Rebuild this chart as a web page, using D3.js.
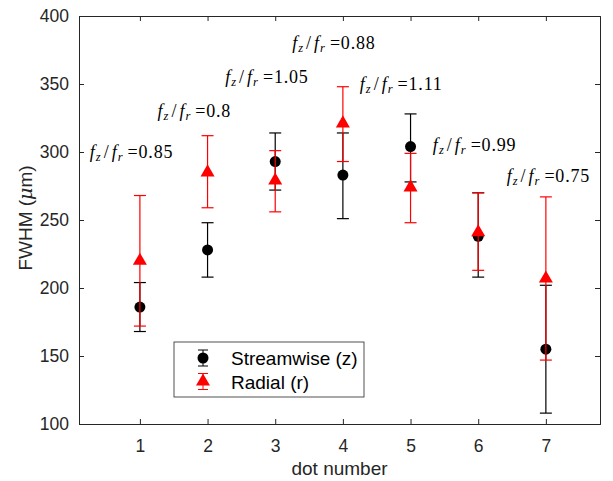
<!DOCTYPE html>
<html>
<head>
<script src="https://cdn.jsdelivr.net/npm/d3@7"></script>
<style>body{margin:0;background:#fff}</style>
</head>
<body>
<svg width="613" height="481" id="mainsvg"></svg>
<script>
const dots = [1, 2, 3, 4, 5, 6, 7];
// streamwise (z): value, lower, upper
const zVal = [186, 228, 293, 283, 304, 238, 155];
const zLow = [168, 208, 272, 251, 278, 208, 108];
const zHigh = [204, 248, 314, 314, 328, 270, 202];
// radial (r)
const rVal = [220, 285, 279, 321, 274, 241, 207];
const rLow = [172, 259, 256, 293, 248, 213, 147];
const rHigh = [268, 312, 301, 348, 299, 270, 267];
// ratio annotations
const ratioText = ['0.85', '0.8', '1.05', '0.88', '1.11', '0.99', '0.75'];
const ratioX = [0.26, 1.26, 2.26, 3.25, 4.25, 5.33, 6.42];
const ratioY = [300, 330, 355, 380, 350, 305, 282];
const yTicks = [100, 150, 200, 250, 300, 350, 400];

const svg = d3.select('svg');
const margin = {top: 16, right: 13, bottom: 57, left: 79};
const width = 613, height = 481;
const innerWidth = width - margin.left - margin.right;
const innerHeight = height - margin.top - margin.bottom;
const g = svg.append('g').attr('transform', `translate(${margin.left},${margin.top})`);

const x = d3.scaleLinear().domain([0.1, 7.8]).range([0, innerWidth]);
const y = d3.scaleLinear().domain([100, 400]).range([innerHeight, 0]);
const axisColor = '#262626';
const sans = 'Liberation Sans, Arial, sans-serif';

// axes with inner ticks on all four sides
const xAxis = g.append('g').attr('transform', `translate(0,${innerHeight})`)
  .call(d3.axisBottom(x).tickValues(dots).tickSize(-5).tickPadding(16).tickFormat(d3.format('d')));
const xTop = g.append('g').call(d3.axisTop(x).tickValues(dots).tickSize(-5).tickFormat(''));
const yAxis = g.append('g').call(d3.axisLeft(y).tickValues(yTicks).tickSize(-5).tickPadding(10));
const yRight = g.append('g').attr('transform', `translate(${innerWidth},0)`)
  .call(d3.axisRight(y).tickValues(yTicks).tickSize(-5).tickFormat(''));
xTop.selectAll('.tick text').remove();
yRight.selectAll('.tick text').remove();
[xAxis, xTop, yAxis, yRight].forEach(a => {
  a.select('.domain').attr('stroke', axisColor);
  a.selectAll('.tick line').attr('stroke', axisColor);
  a.selectAll('.tick text').attr('fill', axisColor).style('font-family', sans).style('font-size', '17.5px');
});

// axis labels
svg.append('text').attr('x', margin.left + innerWidth / 2).attr('y', 475)
  .attr('text-anchor', 'middle').style('font-family', sans).style('font-size', '19px')
  .attr('fill', axisColor).text('dot number');
const yl = svg.append('text').attr('transform', 'translate(32,218) rotate(-90)')
  .attr('text-anchor', 'middle').style('font-family', sans).style('font-size', '19px').attr('fill', axisColor);
yl.append('tspan').text('FWHM (');
yl.append('tspan').style('font-style', 'italic').style('font-family', 'DejaVu Serif, serif').text('μ');
yl.append('tspan').text('m)');

function errorBars(lows, highs, color) {
  const grp = g.append('g');
  dots.forEach((d, i) => {
    const cx = x(d);
    grp.append('line').attr('x1', cx).attr('x2', cx).attr('y1', y(lows[i])).attr('y2', y(highs[i]))
      .attr('stroke', color).attr('stroke-width', 1.2);
    [lows[i], highs[i]].forEach(v => {
      grp.append('line').attr('x1', cx - 6).attr('x2', cx + 6).attr('y1', y(v)).attr('y2', y(v))
        .attr('stroke', color).attr('stroke-width', 1.2);
    });
  });
}

errorBars(zLow, zHigh, '#000');
g.append('g').selectAll('circle').data(dots).join('circle')
  .attr('cx', d => x(d)).attr('cy', (d, i) => y(zVal[i])).attr('r', 5.5).attr('fill', '#000');

errorBars(rLow, rHigh, '#ff0000');
const tri = d3.symbol().type(d3.symbolTriangle).size(85);
g.append('g').selectAll('path').data(dots).join('path')
  .attr('transform', (d, i) => `translate(${x(d)},${y(rVal[i])})`)
  .attr('d', tri).attr('fill', '#ff0000');

// annotations f_z/f_r = ...
const serif = 'Liberation Serif, Times New Roman, serif';
ratioText.forEach((t, i) => {
  const txt = g.append('text').attr('x', x(ratioX[i])).attr('y', y(ratioY[i]) + 6)
    .style('font-family', serif).style('font-size', '18px').attr('fill', '#000');
  txt.append('tspan').style('font-style', 'italic').text('f');
  txt.append('tspan').style('font-style', 'italic').style('font-size', '12.5px').attr('dy', 3).attr('dx', 1).text('z');
  txt.append('tspan').attr('dy', -3).attr('dx', 3).text('/');
  txt.append('tspan').style('font-style', 'italic').attr('dx', 3).text('f');
  txt.append('tspan').style('font-style', 'italic').style('font-size', '12.5px').attr('dy', 3).attr('dx', 1).text('r');
  txt.append('tspan').attr('dy', -3).attr('dx', 5).style('letter-spacing', '0.8px').text('=' + t);
});

// legend
const lg = svg.append('g').attr('transform', 'translate(174,342)');
lg.append('rect').attr('width', 190).attr('height', 55).attr('fill', '#fff')
  .attr('stroke', axisColor).attr('stroke-width', 0.8);
const legendItems = [{name: 'Streamwise (z)', color: '#000', sym: 'circle'},
                     {name: 'Radial (r)', color: '#ff0000', sym: 'tri'}];
legendItems.forEach((it, i) => {
  const cy = 16 + i * 23.5, cx = 29;
  lg.append('line').attr('x1', cx).attr('x2', cx).attr('y1', cy - 8).attr('y2', cy + 8).attr('stroke', it.color);
  [cy - 8, cy + 8].forEach(v => lg.append('line').attr('x1', cx - 5).attr('x2', cx + 5)
    .attr('y1', v).attr('y2', v).attr('stroke', it.color));
  if (it.sym === 'circle') lg.append('circle').attr('cx', cx).attr('cy', cy).attr('r', 5.5).attr('fill', it.color);
  else lg.append('path').attr('transform', `translate(${cx},${cy})`).attr('d', tri).attr('fill', it.color);
  lg.append('text').attr('x', 57).attr('y', cy + 7).style('font-family', sans).style('font-size', '19px')
    .attr('fill', '#000').text(it.name);
});
</script>
</body>
</html>
